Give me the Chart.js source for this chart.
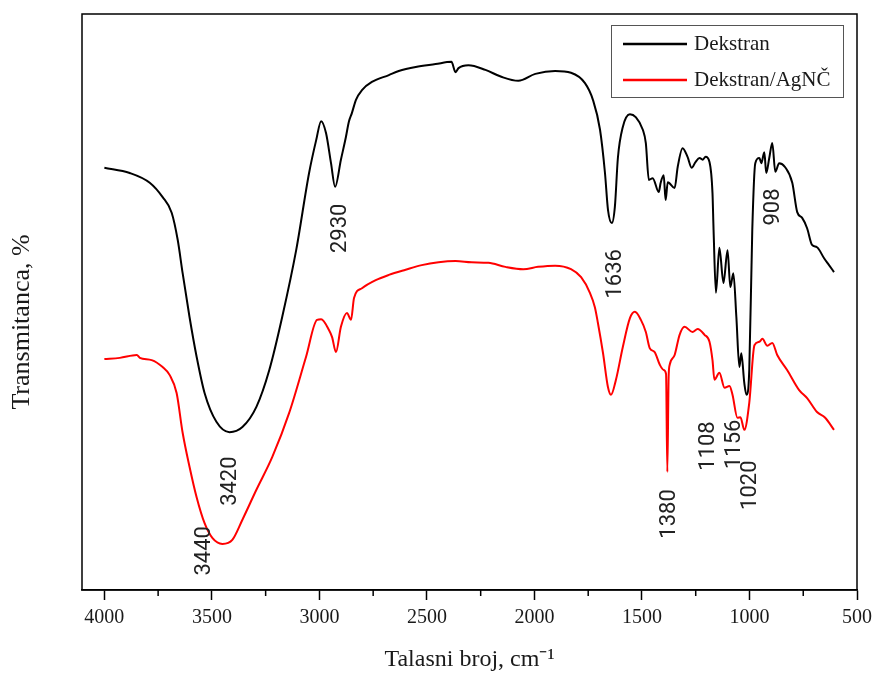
<!DOCTYPE html>
<html>
<head>
<meta charset="utf-8">
<script src="https://cdn.jsdelivr.net/npm/chart.js@4.4.1/dist/chart.umd.min.js"></script>
<style>
  html, body { margin: 0; padding: 0; background: #fff; }
  .chart-box { width: 878px; height: 680px; }
</style>
</head>
<body>
<div class="chart-box"><canvas id="ftir"></canvas></div>
<script>
// Dekstran
const dekstranWn = [
  4000, 3882, 3789, 3729, 3687, 3659, 3636, 3604, 3571, 3534,
  3479, 3418, 3358, 3293, 3233, 3173, 3108, 3048, 3015, 2992,
  2969, 2946, 2927, 2900, 2877, 2863, 2849, 2830, 2802, 2756,
  2677, 2631, 2552, 2460, 2386, 2367, 2353, 2307, 2228, 2154,
  2075, 1996, 1904, 1830, 1765, 1728, 1695, 1672, 1658, 1640,
  1626, 1612, 1589, 1556, 1529, 1496, 1482, 1468, 1450, 1422,
  1413, 1399, 1390, 1380, 1348, 1334, 1311, 1288, 1269, 1251,
  1232, 1218, 1204, 1186, 1172, 1167, 1156, 1140, 1121, 1102,
  1089, 1075, 1061, 1047, 1038, 1024, 1014, 1001, 987, 973,
  954, 945, 931, 922, 908, 894, 880, 862, 834, 801,
  778, 755, 732, 709, 686, 653, 630, 607,
];
const dekstranT = [
  73.3, 72.4, 70.7, 68.2, 65.5, 60.8, 55.0, 47.4, 40.5, 34.2,
  29.2, 27.4, 28.3, 31.8, 38.2, 47.4, 59.0, 72.4, 78.1, 81.4,
  79.3, 74.1, 70.0, 74.7, 78.6, 81.3, 82.8, 85.1, 86.8, 88.2,
  89.4, 90.1, 90.8, 91.3, 91.7, 89.9, 90.6, 91.1, 90.3, 89.1,
  88.4, 89.6, 90.1, 89.8, 88.0, 85.1, 79.9, 72.4, 66.0, 63.7,
  66.5, 75.0, 80.4, 82.6, 82.1, 79.9, 77.6, 71.2, 71.5, 69.1,
  70.7, 72.0, 67.7, 70.8, 69.8, 73.4, 76.7, 75.2, 73.3, 74.3,
  75.0, 74.7, 75.2, 74.3, 68.9, 62.5, 51.6, 59.4, 53.3, 59.0,
  52.6, 55.0, 47.4, 38.7, 41.1, 35.9, 33.9, 38.2, 62.5, 74.1,
  75.0, 74.1, 76.0, 72.4, 75.0, 77.6, 72.6, 74.1, 73.4, 70.7,
  65.6, 64.6, 62.8, 59.9, 59.5, 57.6, 56.4, 55.2,
];

// Dekstran/AgNČ
const agWn = [
  4000, 3928, 3849, 3835, 3780, 3729, 3696, 3664, 3636, 3604,
  3571, 3534, 3497, 3451, 3405, 3358, 3293, 3219, 3141, 3062,
  3011, 2992, 2955, 2941, 2923, 2900, 2872, 2853, 2839, 2802,
  2738, 2677, 2599, 2524, 2446, 2367, 2293, 2214, 2135, 2052,
  1983, 1904, 1830, 1783, 1742, 1719, 1705, 1681, 1658, 1644,
  1621, 1589, 1556, 1533, 1505, 1482, 1464, 1441, 1417, 1399,
  1388, 1382, 1376, 1371, 1348, 1325, 1302, 1265, 1241, 1209,
  1186, 1172, 1163, 1140, 1116, 1093, 1079, 1056, 1042, 1024,
  1001, 977, 954, 940, 917, 894, 871, 825, 769, 732,
  686, 648, 607,
];
const agT = [
  40.1, 40.3, 40.8, 40.3, 39.9, 38.7, 37.3, 34.2, 27.3, 21.4,
  16.1, 11.6, 9.0, 8.0, 8.7, 12.2, 17.4, 23.1, 30.7, 40.5,
  46.9, 47.0, 45.1, 43.9, 41.3, 45.7, 48.1, 46.9, 50.7, 52.4,
  53.8, 54.7, 55.6, 56.4, 56.9, 57.1, 56.9, 56.8, 56.1, 55.7,
  56.1, 56.3, 55.7, 54.3, 51.6, 49.1, 46.4, 41.1, 35.2, 33.9,
  36.5, 42.2, 47.2, 48.3, 46.9, 44.8, 42.0, 41.3, 39.1, 38.2,
  37.5, 20.5, 37.0, 39.1, 40.8, 44.3, 45.7, 44.8, 45.3, 44.3,
  43.1, 39.9, 36.5, 37.7, 35.1, 35.4, 33.9, 29.9, 30.0, 27.8,
  32.5, 42.5, 43.1, 43.6, 42.4, 42.9, 40.8, 38.2, 34.7, 33.3,
  30.9, 29.9, 27.8,
];

const xTicks = [4000, 3500, 3000, 2500, 2000, 1500, 1000, 500];
const xMinorTicks = [3750, 3250, 2750, 2250, 1750, 1250, 750];

// band labels (text, and where the text sits in chart units)
const bandText = ['3440', '3420', '2930', '1636', '1380', '1108', '1156', '1020', '908'];
const bandTextWn = [3534, 3414, 2900, 1621, 1371, 1191, 1070, 996, 889];
const bandTextT = [6.8, 18.9, 62.8, 54.9, 13.2, 25.0, 25.3, 18.2, 66.5];

const serif = '"Liberation Serif", "Times New Roman", serif';
const textColor = '#1a1a1a';

const chartFrame = {
  id: 'chartFrame',
  afterDraw(chart, args, options) {
    const {
      ctx,
      chartArea: { left, top, width, height, bottom },
      scales: { x },
    } = chart;
    ctx.save();
    ctx.strokeStyle = options.color;
    ctx.lineWidth = options.width;
    ctx.strokeRect(left, top, width, height);
    ctx.beginPath();
    xMinorTicks.forEach((v) => {
      const px = x.getPixelForValue(v);
      ctx.moveTo(px, bottom);
      ctx.lineTo(px, bottom + options.minorLength);
    });
    ctx.stroke();

    // y axis title
    ctx.translate(22, (top + bottom) / 2 + 20);
    ctx.rotate(-Math.PI / 2);
    ctx.font = '26px ' + serif;
    ctx.fillStyle = textColor;
    ctx.textAlign = 'center';
    ctx.textBaseline = 'middle';
    ctx.fillText('Transmitanca, %', 0, 0);
    ctx.restore();
  },
};

const boxLegend = {
  id: 'boxLegend',
  afterDraw(chart) {
    const {
      ctx,
      chartArea: { right, top },
    } = chart;
    const x0 = right - 246;
    const y0 = top + 11;
    ctx.save();
    ctx.strokeStyle = '#555';
    ctx.lineWidth = 1;
    ctx.strokeRect(x0 + 0.5, y0 + 0.5, 232, 72);
    chart.data.datasets.forEach((ds, i) => {
      const y = y0 + 19 + i * 36;
      ctx.strokeStyle = ds.borderColor;
      ctx.lineWidth = 2.5;
      ctx.beginPath();
      ctx.moveTo(x0 + 12, y);
      ctx.lineTo(x0 + 76, y);
      ctx.stroke();
      ctx.fillStyle = textColor;
      ctx.font = '21px ' + serif;
      ctx.textAlign = 'left';
      ctx.textBaseline = 'middle';
      ctx.fillText(ds.label, x0 + 83, y);
    });
    ctx.restore();
  },
};

const bandLabels = {
  id: 'bandLabels',
  afterDatasetsDraw(chart) {
    const {
      ctx,
      scales: { x, y },
    } = chart;
    ctx.save();
    ctx.font = '22px Roboto, "Open Sans", sans-serif';
    ctx.fillStyle = '#222';
    ctx.textAlign = 'center';
    ctx.textBaseline = 'middle';
    bandText.forEach((t, i) => {
      ctx.save();
      ctx.translate(x.getPixelForValue(bandTextWn[i]), y.getPixelForValue(bandTextT[i]));
      ctx.rotate(-Math.PI / 2);
      ctx.fillText(t, 0, 0);
      ctx.restore();
    });
    ctx.restore();
  },
};

function toPoints(wn, t) {
  return wn.map((v, i) => ({ x: v, y: t[i] }));
}

new Chart(document.getElementById('ftir'), {
  type: 'line',
  data: {
    datasets: [
      {
        label: 'Dekstran',
        data: toPoints(dekstranWn, dekstranT),
        borderColor: '#000000',
        borderWidth: 2,
        pointRadius: 0,
        cubicInterpolationMode: 'monotone',
      },
      {
        label: 'Dekstran/AgNČ',
        data: toPoints(agWn, agT),
        borderColor: '#ff0000',
        borderWidth: 2,
        pointRadius: 0,
        cubicInterpolationMode: 'monotone',
      },
    ],
  },
  options: {
    responsive: true,
    maintainAspectRatio: false,
    animation: false,
    layout: {
      padding: { top: 14, right: 18, left: 0, bottom: 0 },
    },
    scales: {
      x: {
        type: 'linear',
        reverse: true,
        min: 500,
        max: 4104,
        afterBuildTicks: (scale) => {
          scale.ticks = xTicks.map((tick) => {
            return { value: tick };
          });
        },
        afterFit: (scale) => {
          scale.height = 90;
        },
        grid: {
          drawOnChartArea: false,
          tickLength: 10,
          tickColor: '#000',
          tickWidth: 1.5,
        },
        border: {
          color: '#000',
          width: 1.5,
        },
        ticks: {
          autoSkip: false,
          maxRotation: 0,
          padding: 6,
          color: textColor,
          callback: function (val) {
            return String(val);
          },
          font: {
            size: 20,
            family: serif,
          },
        },
        title: {
          display: true,
          text: 'Talasni broj, cm⁻¹',
          color: textColor,
          padding: { top: 0, bottom: 6 },
          font: {
            size: 24,
            family: serif,
          },
        },
      },
      y: {
        min: 0,
        max: 100,
        afterFit: (scale) => {
          scale.width = 82;
        },
        grid: {
          display: false,
        },
        border: {
          display: false,
        },
        ticks: {
          display: false,
        },
      },
    },
    plugins: {
      legend: {
        display: false,
      },
      tooltip: {
        enabled: false,
      },
      chartFrame: {
        color: '#000',
        width: 1.5,
        minorLength: 6,
      },
    },
  },
  plugins: [chartFrame, boxLegend, bandLabels],
});
</script>
</body>
</html>
